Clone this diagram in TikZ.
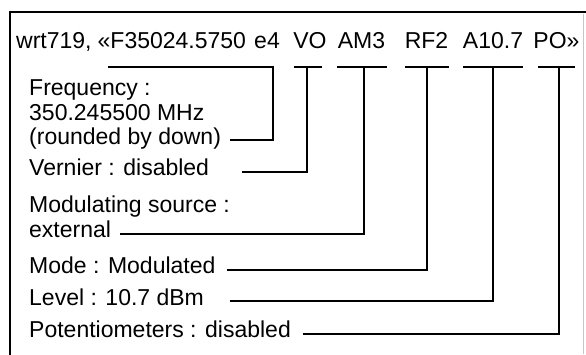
\documentclass[tikz,border=0pt]{standalone}
\usepackage{fontspec}
\setmainfont{Liberation Sans}
\begin{document}
\begin{tikzpicture}[x=1pt,y=-1pt,
  txt/.style={font=\fontsize{23}{25}\selectfont, inner sep=0pt, anchor=base west},
  hdrw/.style={font=\fontsize{23}{25}\selectfont, inner sep=0pt, anchor=base west},
  hdr/.style={font=\fontsize{23}{25}\selectfont, inner sep=0pt, anchor=base},
  conn/.style={line width=2.5pt, line join=miter, line cap=butt},
  frameline/.style={line width=2pt},
  faint/.style={line width=0.6pt, gray!45}]
\useasboundingbox (0,0) rectangle (586,354);
% frame
\draw[frameline] (588,12) -- (10,12) -- (10,356);
\draw[faint] (583,14) -- (583,354);
% header tokens
\node[hdrw] (h1) at (16,48.5) {wrt719,};
\node[hdrw] (h2) at (97.5,48.5) {«F35024.5750};
\node[hdr] (h3) at (267,48.5) {e4};
\node[hdr] (h4) at (310,48.5) {VO};
\node[hdr] (h5) at (361.5,48.5) {AM3};
\node[hdr] (h6) at (426.5,48.5) {RF2};
\node[hdr] (h7) at (493,48.5) {A10.7};
\node[hdr] (h8) at (556.5,48.5) {PO»};
% left labels
\node[txt] (fq1) at (29,95) {Frequency :};
\node[txt] (fq2) at (29,120) {350.245500 MHz};
\node[txt] (fq3) at (29,144) {(rounded by down)};
\node[txt] (vn) at (29,175) {Vernier : disabled};
\node[txt] (ms1) at (29,212) {Modulating source :};
\node[txt] (ms2) at (29,237) {external};
\node[txt] (md) at (29,273) {Mode : Modulated};
\node[txt] (lv) at (29,305) {Level : 10.7 dBm};
\node[txt] (pt) at (29,337) {Potentiometers : disabled};
% underline coordinates
\coordinate (uFa) at (108,67); \coordinate (uFb) at (274.2,67); \coordinate (uFv) at (273,67);
\coordinate (uVa) at (294,67); \coordinate (uVb) at (322,67); \coordinate (uVv) at (307,67);
\coordinate (uAa) at (337,67); \coordinate (uAb) at (387,67); \coordinate (uAv) at (364,67);
\coordinate (uRa) at (405,67); \coordinate (uRb) at (449,67); \coordinate (uRv) at (427,67);
\coordinate (uLa) at (463,67); \coordinate (uLb) at (523,67); \coordinate (uLv) at (493,67);
\coordinate (uPa) at (538,67); \coordinate (uPb) at (575,67); \coordinate (uPv) at (559,67);
% connector free ends
\coordinate (cF) at (230,140);
\coordinate (cV) at (242,172);
\coordinate (cA) at (120,234);
\coordinate (cR) at (227,270);
\coordinate (cL) at (230,301);
\coordinate (cP) at (303,334);
% underlines
\draw[conn] (uFa) -- (uFb);
\draw[conn] (uVa) -- (uVb);
\draw[conn] (uAa) -- (uAb);
\draw[conn] (uRa) -- (uRb);
\draw[conn] (uLa) -- (uLb);
\draw[conn] (uPa) -- (uPb);
% connectors
\draw[conn] (uFv) |- (cF);
\draw[conn] (uVv) |- (cV);
\draw[conn] (uAv) |- (cA);
\draw[conn] (uRv) |- (cR);
\draw[conn] (uLv) |- (cL);
\draw[conn] (uPv) |- (cP);
\end{tikzpicture}
\end{document}
